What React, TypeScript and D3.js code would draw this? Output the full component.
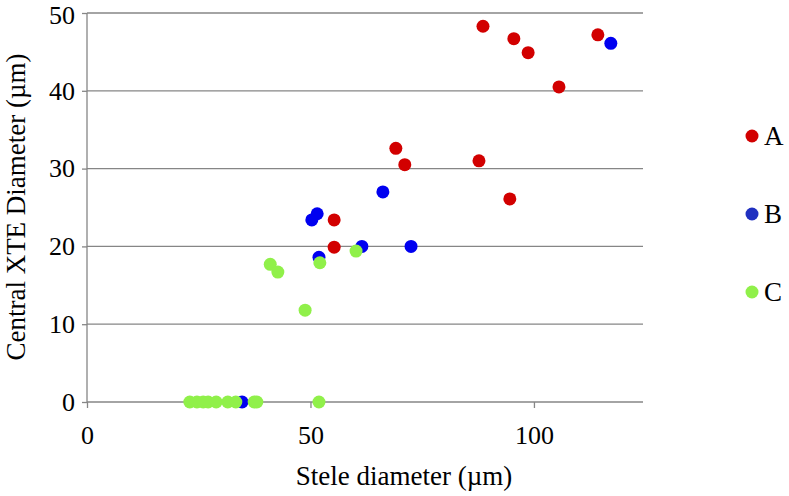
import React, { useEffect, useRef } from "react";
import * as d3 from "d3";

// stele diameter (µm) vs central XTE diameter (µm)
const seriesNames = ["A", "B", "C"];
const colors = ["#d20000", "#0000f0", "#90f04a"];
const legendColors = ["#d20000", "#2030c0", "#90f04a"];

const aX = [88.6, 95.5, 98.7, 114.3, 105.6, 87.7, 94.6, 69.1, 71.1, 55.3, 55.3];
const aY = [48.3, 46.7, 44.9, 47.2, 40.5, 31.0, 26.1, 32.6, 30.5, 23.4, 19.9];

const bX = [117.2, 66.2, 51.5, 50.3, 61.5, 72.5, 51.9, 34.7];
const bY = [46.1, 27.0, 24.2, 23.4, 20.0, 20.0, 18.6, 0];

const cX = [52.1, 60.2, 41.0, 42.7, 48.8, 51.9, 23.0, 24.6, 26.0, 27.1, 28.9, 31.5, 33.3, 37.4, 38.0];
const cY = [17.9, 19.4, 17.7, 16.7, 11.8, 0, 0, 0, 0, 0, 0, 0, 0, 0, 0];

const xTicks = [0, 50, 100];
const yTicks = [0, 10, 20, 30, 40, 50];

const App = () => {
  const ref = useRef<SVGSVGElement>(null);

  useEffect(() => {
    const svg = d3.select(ref.current);
    svg.selectAll("*").remove();

    const left = 87;
    const right = 643;
    const top = 13;
    const bottom = 402;
    const font = "'Liberation Serif', 'Times New Roman', serif";
    const fs = 27;

    const x = d3.scaleLinear().domain([0, 124.4]).range([left, right]);
    const y = d3.scaleLinear().domain([0, 50]).range([bottom, top]);

    // gridlines
    svg
      .append("g")
      .selectAll("line")
      .data(yTicks.filter((t) => t > 0))
      .join("line")
      .attr("x1", left)
      .attr("x2", right)
      .attr("y1", (d) => y(d))
      .attr("y2", (d) => y(d))
      .attr("stroke", "#868686")
      .attr("stroke-width", 1.3);

    const yAxis = svg
      .append("g")
      .attr("transform", `translate(${left},0)`)
      .call(d3.axisLeft(y).tickValues(yTicks).tickSize(5).tickPadding(7));
    yAxis.selectAll("line, path").attr("stroke", "#868686").attr("stroke-width", 1.3);
    yAxis.select(".domain").attr("d", `M0,${top}V${bottom}`);
    yAxis
      .selectAll("text")
      .attr("font-family", font)
      .attr("font-size", 26)
      .attr("fill", "#000")
      .attr("y", (d) => (d === 50 ? 2 : 0));

    const xAxis = svg
      .append("g")
      .attr("transform", `translate(0,${bottom})`)
      .call(d3.axisBottom(x).tickValues(xTicks).tickSize(6).tickPadding(18));
    xAxis.selectAll("line, path").attr("stroke", "#868686").attr("stroke-width", 1.3);
    xAxis.select(".domain").attr("d", `M${left},0H${right}`);
    xAxis.selectAll("text").attr("font-family", font).attr("font-size", 26).attr("fill", "#000");

    const series = [
      { xs: aX, ys: aY },
      { xs: bX, ys: bY },
      { xs: cX, ys: cY },
    ];

    series.forEach((s, i) => {
      svg
        .append("g")
        .selectAll("circle")
        .data(s.xs.map((v, j) => [v, s.ys[j]]))
        .join("circle")
        .attr("cx", (d) => x(d[0]))
        .attr("cy", (d) => y(d[1]))
        .attr("r", 6.5)
        .attr("fill", colors[i]);
    });

    // legend
    const legend = svg
      .append("g")
      .selectAll("g")
      .data(seriesNames)
      .join("g")
      .attr("transform", (d, i) => `translate(752,${136 + i * 78})`);
    legend
      .append("circle")
      .attr("r", 6.5)
      .attr("fill", (d, i) => legendColors[i]);
    legend
      .append("text")
      .attr("x", 12)
      .attr("dy", "0.35em")
      .attr("font-family", font)
      .attr("font-size", fs)
      .text((d) => d);

    svg
      .append("text")
      .attr("x", 404)
      .attr("y", 485)
      .attr("text-anchor", "middle")
      .attr("font-family", font)
      .attr("font-size", fs)
      .text("Stele diameter (µm)");

    svg
      .append("text")
      .attr("transform", `translate(25,207) rotate(-90)`)
      .attr("text-anchor", "middle")
      .attr("font-family", font)
      .attr("font-size", fs)
      .text("Central XTE Diameter (µm)");
  }, []);

  return (
    <svg
      ref={ref}
      width={789}
      height={496}
      style={{ position: "absolute", left: 0, top: 0, background: "#fff" }}
    />
  );
};

export default App;
